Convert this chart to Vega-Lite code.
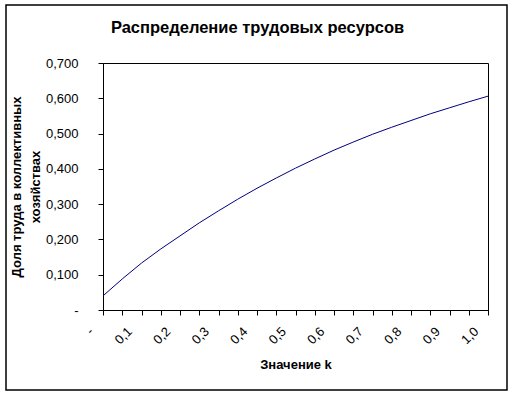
{
  "$schema": "https://vega.github.io/schema/vega-lite/v6.json",
  "width": 385,
  "height": 247,
  "autosize": {"type": "none"},
  "padding": {"left": 103, "top": 63, "right": 25, "bottom": 86},
  "background": "white",
  "config": {
    "font": "Liberation Sans",
    "view": {"stroke": "black", "strokeWidth": 1},
    "axis": {
      "labelFont": "Liberation Sans",
      "labelFontSize": 13,
      "labelColor": "black",
      "titleFont": "Liberation Sans",
      "titleFontSize": 13,
      "titleFontWeight": "bold",
      "titleColor": "black",
      "domainColor": "black",
      "tickColor": "black",
      "tickSize": 5,
      "grid": false
    }
  },
  "title": {
    "text": "Распределение трудовых ресурсов",
    "font": "Liberation Sans",
    "fontSize": 16.5,
    "fontWeight": "bold",
    "color": "black",
    "anchor": "middle",
    "frame": "group",
    "baseline": "bottom",
    "dx": -38,
    "offset": -48
  },
  "layer": [
    {
      "data": {"values": [{}]},
      "mark": {"type": "rect", "fill": null, "stroke": "black", "strokeWidth": 1.5, "clip": false},
      "encoding": {
        "x": {"value": -97},
        "x2": {"value": 404},
        "y": {"value": -58},
        "y2": {"value": 327}
      }
    },
    {
      "data": {
        "values": [
          {"k": 0.0, "v": 0.040},
          {"k": 0.05, "v": 0.088},
          {"k": 0.1, "v": 0.133},
          {"k": 0.15, "v": 0.173},
          {"k": 0.2, "v": 0.210},
          {"k": 0.25, "v": 0.247},
          {"k": 0.3, "v": 0.281},
          {"k": 0.35, "v": 0.314},
          {"k": 0.4, "v": 0.345},
          {"k": 0.45, "v": 0.374},
          {"k": 0.5, "v": 0.402},
          {"k": 0.55, "v": 0.428},
          {"k": 0.6, "v": 0.453},
          {"k": 0.65, "v": 0.476},
          {"k": 0.7, "v": 0.498},
          {"k": 0.75, "v": 0.518},
          {"k": 0.8, "v": 0.537},
          {"k": 0.85, "v": 0.556},
          {"k": 0.9, "v": 0.573},
          {"k": 0.95, "v": 0.590},
          {"k": 1.0, "v": 0.606}
        ]
      },
      "mark": {"type": "line", "color": "#000080", "strokeWidth": 1},
      "encoding": {
        "x": {
          "field": "k",
          "type": "quantitative",
          "scale": {"domain": [0, 1], "nice": false, "zero": false},
          "axis": {
            "title": "Значение k",
            "values": [0, 0.05, 0.1, 0.15, 0.2, 0.25, 0.3, 0.35, 0.4, 0.45, 0.5, 0.55, 0.6, 0.65, 0.7, 0.75, 0.8, 0.85, 0.9, 0.95, 1.0],
            "labelExpr": "datum.value == 0 ? '-' : (round(datum.value * 20) % 2 == 0 ? replace(format(datum.value, '.1f'), '.', ',') : '')",
            "labelAngle": -45,
            "labelAlign": "right",
            "labelBaseline": "middle",
            "labelOffset": -12,
            "labelPadding": 14,
            "labelOverlap": false,
            "labelFlush": false,
            "titlePadding": 12
          }
        },
        "y": {
          "field": "v",
          "type": "quantitative",
          "scale": {"domain": [0, 0.7], "nice": false},
          "axis": {
            "title": ["Доля труда в коллективных", "хозяйствах"],
            "titleLineHeight": 19,
            "values": [0, 0.1, 0.2, 0.3, 0.4, 0.5, 0.6, 0.7],
            "labelExpr": "datum.value == 0 ? '-' : replace(format(datum.value, '.3f'), '.', ',')",
            "labelPadding": 20,
            "labelFlush": false,
            "labelOverlap": false,
            "titlePadding": 3
          }
        }
      }
    }
  ]
}
